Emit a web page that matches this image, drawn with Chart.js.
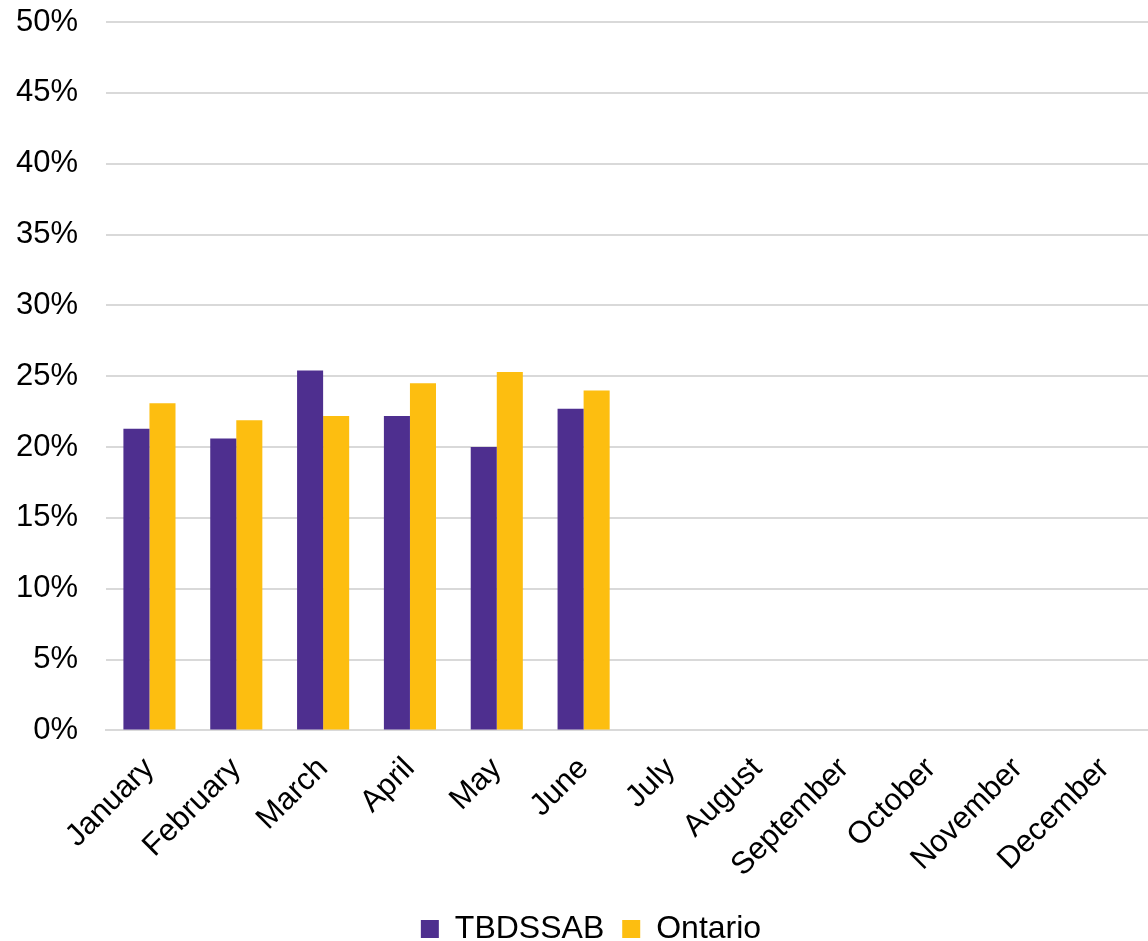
<!DOCTYPE html>
<html>
<head>
<meta charset="utf-8">
<script src="https://cdn.jsdelivr.net/npm/chart.js@4"></script>
<style>
html,body{margin:0;padding:0;background:#fff;}
#wrap{width:1148px;height:941px;position:relative;}
</style>
</head>
<body>
<div id="wrap"><canvas id="c" width="1148" height="941"></canvas></div>
<script>
const categories = ["January","February","March","April","May","June","July","August","September","October","November","December"];
const tbdssab = [21.3, 20.6, 25.4, 22.2, 20.0, 22.7, null, null, null, null, null, null];
const ontario = [23.1, 21.9, 22.2, 24.5, 25.3, 24.0, null, null, null, null, null, null];
const seriesNames = ["TBDSSAB", "Ontario"];

const FONT = "'Liberation Sans', Arial, sans-serif";
const legendShift = {
  id: 'legendShift',
  afterLayout(chart) {
    if (chart.legend) { chart.legend.left += 23; chart.legend.right += 23; }
  }
};
new Chart(document.getElementById('c'), {
  type: 'bar',
  data: {
    labels: categories,
    datasets: [
      { label: seriesNames[0], data: tbdssab, backgroundColor: '#4E2F8F', categoryPercentage: 0.6, barPercentage: 1.0 },
      { label: seriesNames[1], data: ontario, backgroundColor: '#FDBE10', categoryPercentage: 0.6, barPercentage: 1.0 }
    ]
  },
  plugins: [legendShift],
  options: {
    responsive: false,
    animation: false,
    layout: { padding: { top: 0, right: 0, left: -12, bottom: -14 } },
    plugins: {
      legend: {
        position: 'bottom',
        labels: { font: { family: FONT, size: 32 }, color: '#000', boxWidth: 18, boxHeight: 18, padding: 18 }
      },
      tooltip: { enabled: false }
    },
    scales: {
      x: {
        grid: { display: false, drawTicks: false },
        border: { display: true, color: '#d9d9d9', width: 2 },
        ticks: { font: { family: FONT, size: 31 }, color: '#000', maxRotation: 45, minRotation: 45, padding: 20, autoSkip: false },
        afterFit: s => { s.paddingLeft = 0; s.paddingRight = 0; s.height -= 9; }
      },
      y: {
        min: 0, max: 50,
        grid: { color: '#d9d9d9', lineWidth: 2, drawTicks: false },
        border: { display: false },
        ticks: { stepSize: 5, font: { family: FONT, size: 31 }, color: '#000', padding: 28, callback: v => v + '%' },
        afterFit: s => { s.paddingTop = 22; }
      }
    }
  }
});
</script>
</body>
</html>
